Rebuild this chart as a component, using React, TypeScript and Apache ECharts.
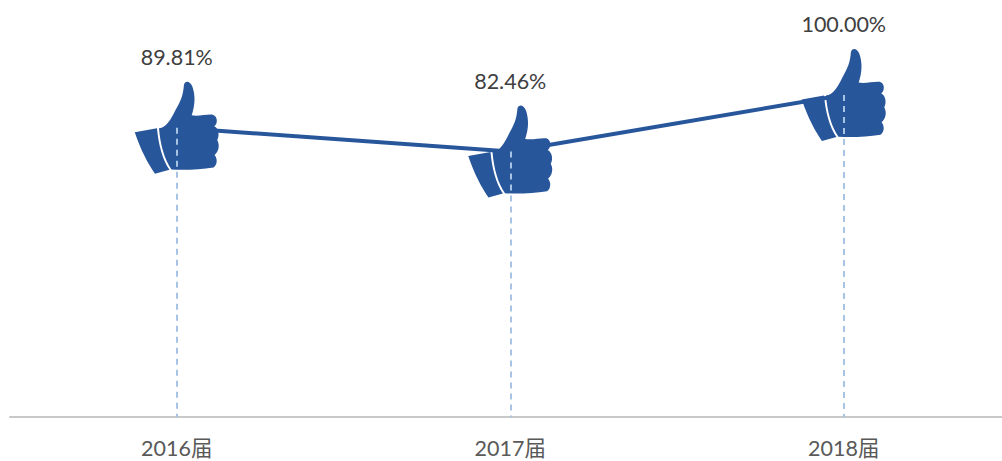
import React, { useEffect, useRef } from "react";
import * as echarts from "echarts";

const categories = ["2016届", "2017届", "2018届"];
const rates = [89.81, 82.46, 100.0];

const BLUE = "#27569b";
const THUMB =
  "path://M46,277 L112,265 C116,310 128,360 149,389 L106,401 C85,370 66,335 46,277 Z " +
  "M118,265 C140,262 152,240 167,210 C182,185 190,165 192,135 C195,122 210,122 217,140 C226,165 226,195 215,226 " +
  "C235,230 260,222 278,224 C294,230 292,252 282,259 C296,266 298,288 291,300 C299,315 296,334 283,345 " +
  "C292,355 292,374 280,382 C240,387 200,391 155,388 C135,360 122,315 118,265 Z";

export default function App() {
  const ref = useRef<HTMLDivElement>(null);
  useEffect(() => {
    document.body.style.margin = "0";
    const chart = echarts.init(ref.current!, undefined, { renderer: "svg" });
    const font = 'Lato, "Noto Sans CJK SC", sans-serif';
    chart.setOption({
      animation: false,
      grid: { left: 10, top: 95, width: 1000.5, height: 322, outerBoundsMode: "none" },
      xAxis: {
        type: "category",
        data: categories,
        boundaryGap: true,
        axisTick: { show: false },
        axisLine: { lineStyle: { color: "#c8c8c8", width: 2 } },
        axisLabel: { color: "#595959", fontSize: 21.5, fontFamily: font, margin: 20 },
      },
      yAxis: { type: "value", min: 0, max: 100, show: false, splitLine: { show: false } },
      series: [
        {
          type: "line",
          data: rates,
          symbol: THUMB,
          symbolSize: [84, 92],
          symbolKeepAspect: false,
          lineStyle: { color: BLUE, width: 4 },
          itemStyle: { color: BLUE },
          label: {
            show: true,
            position: "top",
            distance: 14,
            formatter: (p: any) => p.value.toFixed(2) + "%",
            color: "#404040",
            fontSize: 21.5,
            fontFamily: font,
          },
          markLine: {
            silent: true,
            symbol: "none",
            z: 10,
            label: { show: false },
            lineStyle: { color: "#a8c4e4", type: [6, 5], width: 2 },
            data: categories.map((c, i) => [
              { xAxis: c, yAxis: rates[i] },
              { xAxis: c, yAxis: 0 },
            ]),
          },
        },
      ],
    });
    return () => chart.dispose();
  }, []);
  return <div ref={ref} style={{ width: 1002, height: 461 }} />;
}
